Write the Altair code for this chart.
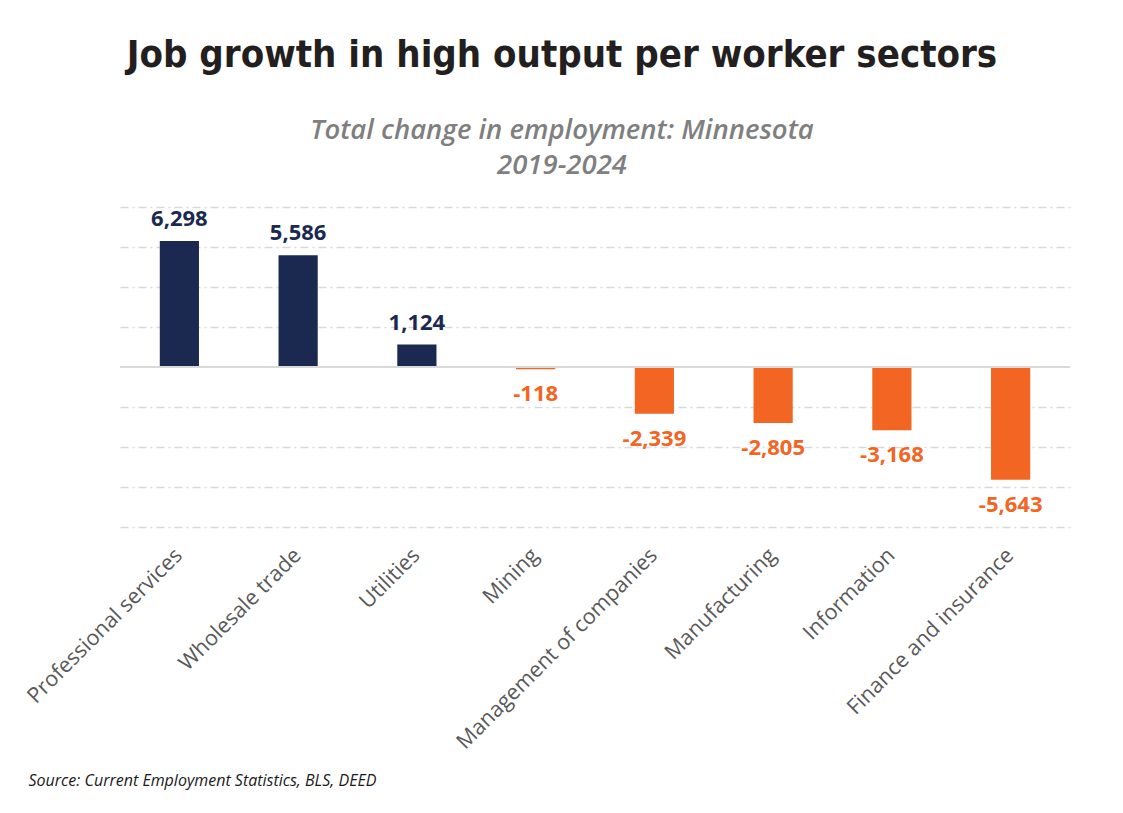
import altair as alt
import pandas as pd

sectors = ["Professional services", "Wholesale trade", "Utilities", "Mining",
           "Management of companies", "Manufacturing", "Information", "Finance and insurance"]
changes = [6298, 5586, 1124, -118, -2339, -2805, -3168, -5643]

df = pd.DataFrame({"sector": sectors, "change": changes})
df["sign"] = ["pos" if v >= 0 else "neg" for v in df["change"]]
df["label"] = [f"{v:,}" for v in df["change"]]

NAVY = "#1b2951"
ORANGE = "#f26522"
color_scale = alt.Scale(domain=["pos", "neg"], range=[NAVY, ORANGE])

x = alt.X("sector:N", sort=sectors,
          scale=alt.Scale(paddingInner=0.67, paddingOuter=0.335),
          axis=alt.Axis(title="Source: Current Employment Statistics, BLS, DEED",
                        titleFont="Open Sans", titleFontStyle="italic", titleFontWeight="normal",
                        titleFontSize=16, titleColor="#1a1a1a",
                        titleAnchor="start", titleAlign="left", titleBaseline="alphabetic",
                        titleX=-92, titleY=258,
                        labelAngle=-45, labelAlign="right", labelBaseline="middle",
                        labelFont="Open Sans", labelFontSize=21.5, labelColor="#595959",
                        labelLimit=0, labelPadding=25, domain=False, ticks=False, grid=False))

y = alt.Y("change:Q", scale=alt.Scale(domain=[-8000, 8000], nice=False),
          axis=alt.Axis(title=None, labels=False, ticks=False, domain=False,
                        values=[-8000, -6000, -4000, -2000, 2000, 4000, 6000, 8000],
                        grid=True, gridColor="#d9d9d9", gridDash=[8, 4, 2, 4], gridWidth=1.5))

base = alt.Chart(df)

bars = base.mark_bar().encode(
    x=x, y=y,
    color=alt.Color("sign:N", scale=color_scale, legend=None),
)

zero = alt.Chart(df).mark_rule(color="#d9d9d9", strokeWidth=2).encode(y=alt.datum(0))

pos_labels = base.transform_filter("datum.change >= 0").mark_text(
    baseline="bottom", dy=-10, font="Open Sans", fontWeight="bold", fontSize=22
).encode(x=alt.X("sector:N", sort=sectors), y="change:Q", text="label:N",
         color=alt.Color("sign:N", scale=color_scale, legend=None))

neg_labels = base.transform_filter("datum.change < 0").mark_text(
    baseline="top", dy=15, font="Open Sans", fontWeight="bold", fontSize=22
).encode(x=alt.X("sector:N", sort=sectors), y="change:Q", text="label:N",
         color=alt.Color("sign:N", scale=color_scale, legend=None))

chart = alt.layer(bars, zero, pos_labels, neg_labels).properties(
    width=950, height=320,
    autosize=alt.AutoSizeParams(type="none"),
    padding={"left": 112, "top": 199, "right": 45, "bottom": 278},
    title=alt.Title(
        "Job growth in high output per worker sectors",
        subtitle=["Total change in employment: Minnesota", "2019-2024"],
        font="DejaVu Sans Condensed", fontSize=38, fontWeight="bold",
        color="#231f20",
        subtitleFont="Open Sans", subtitleFontStyle="italic", subtitleFontWeight=600,
        subtitleFontSize=27.5, subtitleColor="#7f7f7f", subtitleLineHeight=35,
        subtitlePadding=42, anchor="middle", dx=-33, offset=28,
    ),
).configure_view(stroke=None)

chart.save("out.html", embed_options={"renderer": "svg", "actions": False})
